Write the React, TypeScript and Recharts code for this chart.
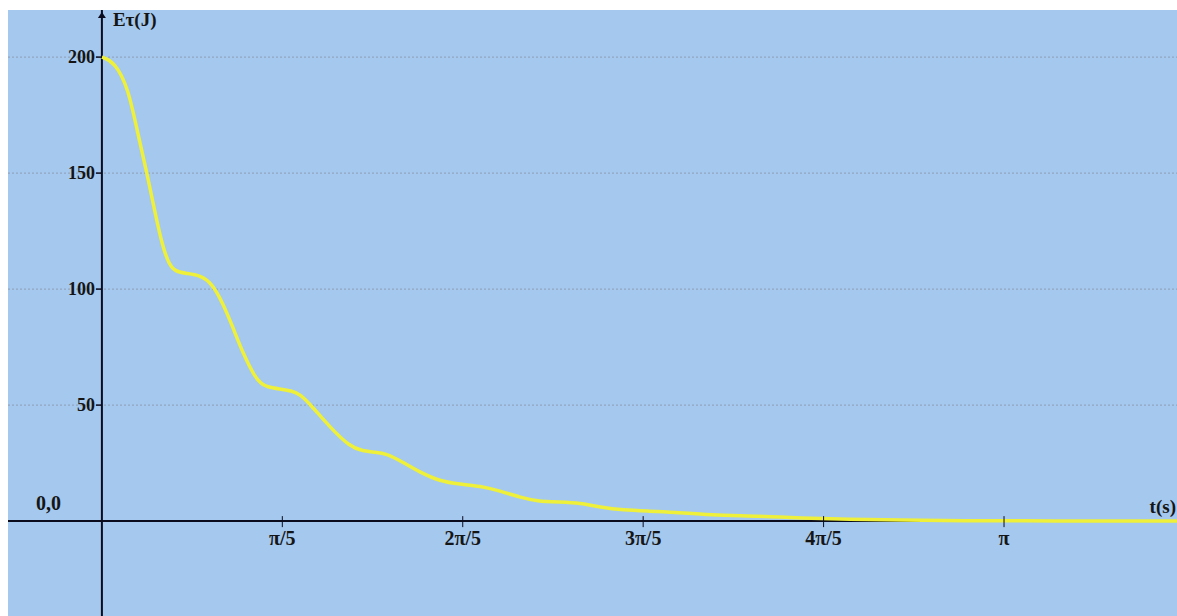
import React from 'react';
import { LineChart, Line, XAxis, YAxis, ReferenceLine, ReferenceDot } from 'recharts';

// time t (s) and kinetic energy Eτ (J)
const T_VALUES = [
  0, 0.045, 0.091, 0.125, 0.157, 0.185, 0.212, 0.235, 0.254, 0.289, 0.341, 0.383, 0.421,
  0.456, 0.491, 0.533, 0.555, 0.575, 0.62, 0.66, 0.69, 0.735, 0.794, 0.864, 0.909, 0.95, 0.993, 1.048,
  1.108, 1.177, 1.247, 1.317, 1.386, 1.456, 1.515, 1.595, 1.665, 1.735, 1.815, 1.909,
  1.989, 2.118, 2.292, 2.431, 2.605, 2.779, 2.988, 3.302, 3.744,
];
const E_VALUES = [
  200, 197.8, 187, 167, 150, 133, 118, 110.5, 107.8, 106.8, 106, 102.6, 94,
  83.6, 72.4, 62, 59.3, 57.8, 56.9, 56.2, 54.8, 49, 40.5, 32, 30.2, 29.7, 29.1, 25.4,
  21, 17.2, 15.9, 15.1, 13, 10.3, 8.6, 8.2, 7.8, 6, 4.7, 4.3,
  3.9, 2.6, 2.2, 1.3, 0.8, 0.4, 0.2, 0.05, 0,
];
const X_TICK_MULTIPLES = [1, 2, 3, 4, 5];
const X_TICK_LABELS = ['π/5', '2π/5', '3π/5', '4π/5', 'π'];
const Y_TICKS = [50, 100, 150, 200];
const X_DOMAIN: [number, number] = [-0.327, 3.744];
const Y_DOMAIN: [number, number] = [-40.9, 220.3];

const data = T_VALUES.map((t, i) => ({ t, e: E_VALUES[i] }));

const FONT = '"Liberation Serif", "DejaVu Serif", serif';
const AXIS = '#0b0b1e';
const TEXT = '#151515';
const txt = (size: number) => ({ fontFamily: FONT, fontWeight: 700, fontSize: size });

const XTick = (p: any) => (
  <g>
    <line x1={p.cx} x2={p.cx} y1={p.cy - 5} y2={p.cy + 6} stroke={AXIS} strokeWidth={1} />
    <text x={p.cx} y={p.cy + 24} textAnchor="middle" style={txt(20)} fill={TEXT}>
      {p.label}
    </text>
  </g>
);

const YTick = (p: any) => (
  <g>
    <line x1={p.cx - 6} x2={p.cx} y1={p.cy} y2={p.cy} stroke={AXIS} strokeWidth={1.5} />
    <text x={p.cx - 7} y={p.cy + 6} textAnchor="end" style={txt(18)} fill={TEXT}>
      {p.label}
    </text>
  </g>
);

const YAxisHead = (p: any) => (
  <g>
    <polygon points={`${p.cx},${p.cy + 2} ${p.cx - 4},${p.cy + 8} ${p.cx + 4},${p.cy + 8}`} fill={AXIS} />
    <text x={p.cx + 11} y={p.cy + 16} style={txt(19)} fill={TEXT}>
      Eτ(J)
    </text>
  </g>
);

const OriginLabel = (p: any) => (
  <text x={p.cx - 66} y={p.cy - 11} style={txt(20)} fill={TEXT}>
    0,0
  </text>
);

const TimeLabel = (p: any) => (
  <text x={p.cx - 1} y={p.cy - 8} textAnchor="end" style={txt(19)} fill={TEXT}>
    t(s)
  </text>
);

export default function App() {
  return (
    <div style={{ position: 'fixed', left: 8, top: 10, width: 1169, height: 606, background: '#A4C8EE' }}>
      <LineChart width={1169} height={606} data={data} margin={{ top: 0, right: 0, bottom: 0, left: 0 }}>
        <XAxis type="number" dataKey="t" domain={X_DOMAIN} allowDataOverflow hide />
        <YAxis type="number" domain={Y_DOMAIN} allowDataOverflow hide />
        {Y_TICKS.map((v) => (
          <ReferenceLine key={'g' + v} y={v} stroke="#8d9cb2" strokeDasharray="2 2" strokeWidth={1} />
        ))}
        <ReferenceLine y={0} stroke={AXIS} strokeWidth={2} />
        <ReferenceLine x={0} stroke={AXIS} strokeWidth={2} />
        {X_TICK_MULTIPLES.map((k, i) => (
          <ReferenceDot
            key={'xt' + k}
            x={(Math.PI * k) / 5}
            y={0}
            r={0}
            ifOverflow="visible"
            shape={(p: any) => <XTick {...p} label={X_TICK_LABELS[i]} />}
          />
        ))}
        {Y_TICKS.map((v) => (
          <ReferenceDot
            key={'yt' + v}
            x={0}
            y={v}
            r={0}
            ifOverflow="visible"
            shape={(p: any) => <YTick {...p} label={String(v)} />}
          />
        ))}
        <ReferenceDot x={0} y={Y_DOMAIN[1]} r={0} ifOverflow="visible" shape={(p: any) => <YAxisHead {...p} />} />
        <ReferenceDot x={0} y={0} r={0} ifOverflow="visible" shape={(p: any) => <OriginLabel {...p} />} />
        <ReferenceDot x={X_DOMAIN[1]} y={0} r={0} ifOverflow="visible" shape={(p: any) => <TimeLabel {...p} />} />
        <Line
          type="basis"
          dataKey="e"
          stroke="#EEF03A"
          strokeWidth={3.5}
          dot={false}
          isAnimationActive={false}
        />
      </LineChart>
    </div>
  );
}
